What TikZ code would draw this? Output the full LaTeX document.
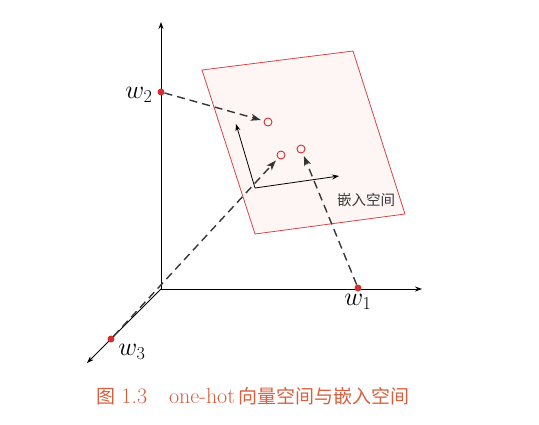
\RequirePackage{fix-cm}
\documentclass[tikz,border=0pt]{standalone}
\usepackage{fontspec}
\newfontfamily\cjk{Noto Sans CJK SC}
\usetikzlibrary{arrows.meta}
\definecolor{dotred}{RGB}{208,48,48}
\definecolor{planered}{RGB}{214,70,72}
\definecolor{planefill}{RGB}{253,246,244}
\definecolor{dashgray}{RGB}{55,55,55}
\definecolor{capred}{RGB}{214,96,62}

\begin{document}
\begin{tikzpicture}[x=1pt,y=-1pt,>={Stealth[length=7pt,width=5pt]},
  dot/.style={circle,fill=dotred,inner sep=0pt,minimum size=7pt},
  emb/.style={circle,draw=dotred,fill=planefill,line width=0.9pt,inner sep=0pt,minimum size=8pt},
  proj/.style={-{Stealth[length=10pt,width=7pt,inset=2.5pt]},dash pattern=on 8pt off 5pt,
    line width=1.4pt,draw=dashgray,shorten >=3pt},
  axis/.style={->,line width=0.8pt},
  wlab/.style={font=\fontsize{26}{30}\selectfont}]

\useasboundingbox (0,0) rectangle (539,424);

% one-hot axes
\coordinate (O)    at (161,289);
\coordinate (ytip) at (161,22);
\coordinate (xtip) at (422,289);
\coordinate (ztip) at (87,363);
\draw[axis] (O) -- (ytip);
\draw[axis] (O) -- (xtip);
\draw[axis] (O) -- (ztip);

% embedding plane
\coordinate (p1) at (202,70);
\coordinate (p2) at (353,51);
\coordinate (p3) at (405,214);
\coordinate (p4) at (255,234);
\draw[planered,fill=planefill,line width=0.8pt] (p1) -- (p2) -- (p3) -- (p4) -- cycle;

% axes inside the plane
\coordinate (E)  at (255,188);
\coordinate (eu) at (236,124);
\coordinate (er) at (339,176);
\draw[axis] (E) -- (eu);
\draw[axis] (E) -- (er);
\node[text=dashgray,font=\cjk\fontsize{14.5}{16}\selectfont] (lab) at (366,200) {嵌入空间};

% one-hot words
\node[dot] (w1) at (358,288) {};
\node[dot] (w2) at (161,92) {};
\node[dot] (w3) at (111,339) {};
\node[wlab] (w1l) at (358,302) {$w_1$};
\node[wlab,anchor=east] (w2l) at (156,95) {$w_2$};
\node[wlab] (w3l) at (132,352) {$w_3$};

% embedded words
\node[emb] (e2) at (268,122) {};
\node[emb] (e3) at (281,155) {};
\node[emb] (e1) at (301,149) {};

\path[proj] (w2) edge (e2)
            (w3) edge (e3)
            (w1) edge (e1);

\node[text=capred,font=\fontsize{19}{22}\selectfont] (cap) at (253,396)
  {{\cjk 图}\ {\fontsize{22}{24}\selectfont 1.3\quad one-hot}\,{\cjk 向量空间与嵌入空间}};

\end{tikzpicture}
\end{document}
